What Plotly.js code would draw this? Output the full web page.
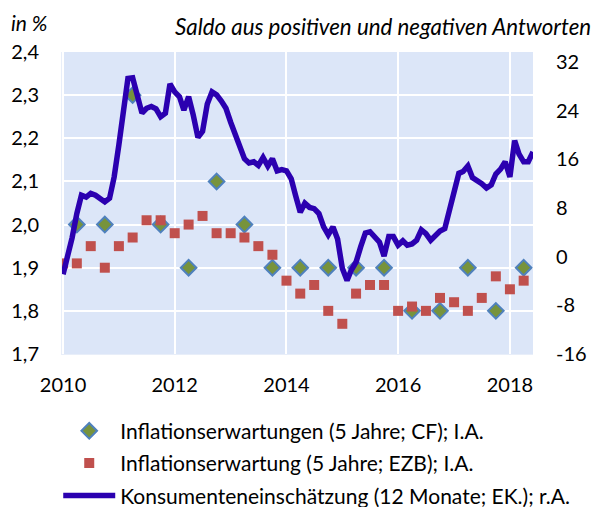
<!DOCTYPE html>
<html>
<head>
<meta charset="utf-8">
<script src="https://cdn.plot.ly/plotly-3.0.1.min.js"></script>
<style>html,body{margin:0;padding:0;background:#fff;}#chart{width:598px;height:507px;}</style>
</head>
<body>
<div id="chart"></div>
<script>
// Inflationserwartungen (5 Jahre; CF) - halbjährlich
var cfDates = ["2010-04-01","2010-10-01","2011-04-01","2011-10-01","2012-04-01","2012-10-01","2013-04-01","2013-10-01","2014-04-01","2014-10-01","2015-04-01","2015-10-01","2016-04-01","2016-10-01","2017-04-01","2017-10-01","2018-04-01"];
var cfValues = [2.0,2.0,2.3,2.0,1.9,2.1,2.0,1.9,1.9,1.9,1.9,1.9,1.8,1.8,1.9,1.8,1.9];

// Inflationserwartung (5 Jahre; EZB) - quartalsweise
var ecbDates = ["2010-01-01","2010-04-01","2010-07-01","2010-10-01","2011-01-01","2011-04-01","2011-07-01","2011-10-01","2012-01-01","2012-04-01","2012-07-01","2012-10-01","2013-01-01","2013-04-01","2013-07-01","2013-10-01","2014-01-01","2014-04-01","2014-07-01","2014-10-01","2015-01-01","2015-04-01","2015-07-01","2015-10-01","2016-01-01","2016-04-01","2016-07-01","2016-10-01","2017-01-01","2017-04-01","2017-07-01","2017-10-01","2018-01-01","2018-04-01"];
var ecbValues = [1.91,1.91,1.95,1.90,1.95,1.97,2.01,2.01,1.98,2.00,2.02,1.98,1.98,1.97,1.95,1.93,1.87,1.84,1.86,1.80,1.77,1.84,1.86,1.86,1.80,1.81,1.80,1.83,1.82,1.80,1.83,1.88,1.85,1.87];

// Konsumenteneinschätzung (12 Monate; EK.) - monatlich ab 2010-01
var consStart = "2010-01";
var consValues = [-2.9,0.2,3.1,7.1,10.1,9.8,10.4,10.1,9.6,9.0,9.6,13.1,
18.4,24.1,29.3,29.4,26.8,23.6,24.4,24.7,24.3,23.0,23.6,28.4,
27.1,26.3,24.1,26.3,23.3,19.6,20.6,25.1,27.1,26.6,25.6,24.4,
22.1,20.1,18.3,16.1,15.4,15.6,15.0,16.3,14.9,16.1,14.1,14.3,
14.1,12.8,10.1,7.3,8.8,8.1,7.9,7.1,4.9,3.6,4.9,2.9,
-1.9,-3.9,-2.2,-0.9,1.6,3.9,4.1,3.1,2.4,0.1,3.3,3.3,
1.9,2.6,1.9,2.1,2.7,4.4,3.8,2.7,3.6,4.2,4.6,7.8,
11.1,13.7,14.0,14.9,13.0,12.6,12.0,11.3,11.8,13.6,14.4,15.6,
13.1,19.1,16.9,15.6,15.6,17.2];

var leftTicks = [1.7,1.8,1.9,2.0,2.1,2.2,2.3,2.4];
var rightTicks = [-16,-8,0,8,16,24,32];
var rightTickText = ["-16","-8","0","8","16","24","32"];
var xTicks = ["2010-01-01","2012-01-01","2014-01-01","2016-01-01","2018-01-01"];
var xTickText = ["2010","2012","2014","2016","2018"];

var names = ["Inflationserwartungen (5 Jahre; CF); I.A.",
             "Inflationserwartung (5 Jahre; EZB); I.A.",
             "Konsumenteneinschätzung (12 Monate; EK.); r.A."];

// build monthly dates
var consDates = [];
(function(){
  var p = consStart.split("-"); var y = +p[0], m = +p[1];
  for (var i = 0; i < consValues.length; i++) {
    consDates.push(y + "-" + (m < 10 ? "0" + m : m) + "-01");
    m++; if (m > 12) { m = 1; y++; }
  }
})();

var FONT = "Lato, 'Open Sans', sans-serif";

var traces = [
  {x: cfDates, y: cfValues, type: "scatter", mode: "markers", name: names[0],
   legendgroup: "a",
   marker: {symbol: "diamond", size: 12, color: "#77933C", line: {color: "#4F81BD", width: 2}}},
  {x: ecbDates, y: ecbValues, type: "scatter", mode: "markers", name: names[1],
   legendgroup: "b",
   marker: {symbol: "square", size: 10, color: "#C0504D", line: {width: 0}}},
  {x: consDates, y: consValues, type: "scatter", mode: "lines", name: names[2],
   legendgroup: "c", yaxis: "y2",
   line: {color: "#2B00B0", width: 5.5}}
];

var layout = {
  width: 598, height: 507,
  margin: {l: 62, r: 65, t: 52, b: 153},
  paper_bgcolor: "#ffffff",
  plot_bgcolor: "#DCE6F8",
  separators: ",.",
  font: {family: FONT, size: 20, color: "#000"},
  showlegend: true,
  legend: {x: -0.008, xanchor: "left", xref: "paper",
           y: 0.19, yanchor: "top", yref: "container",
           font: {family: FONT, size: 21, color: "#000"},
           tracegroupgap: 2, itemwidth: 52, bgcolor: "rgba(0,0,0,0)"},
  xaxis: {type: "date", range: ["2009-12-25", "2018-06-01"],
          tickvals: xTicks, ticktext: xTickText,
          showgrid: true, gridcolor: "#ffffff", gridwidth: 2,
          zeroline: false, showline: true, linecolor: "#E8EEF9", linewidth: 1,
          ticks: "", ticklabelstandoff: 13,
          tickfont: {family: FONT, size: 20, color: "#000"}},
  yaxis: {range: [1.7, 2.4], tickvals: leftTicks, tickformat: ".1f",
          showgrid: true, gridcolor: "#ffffff", gridwidth: 2,
          zeroline: false, showline: true, linecolor: "#E8EEF9", linewidth: 1,
          ticks: "", ticklabelstandoff: 18,
          tickfont: {family: FONT, size: 20, color: "#000"}},
  yaxis2: {range: [-16, 33.65], overlaying: "y", side: "right",
           tickvals: rightTicks, ticktext: rightTickText,
           showgrid: false, zeroline: false, showline: false,
           ticks: "", ticklabelstandoff: 22,
           tickfont: {family: FONT, size: 20, color: "#000"}},
  annotations: [
    {text: "<i>in %</i>", xref: "paper", yref: "paper", x: -0.112, y: 1.097,
     xanchor: "left", yanchor: "middle", showarrow: false,
     font: {family: FONT, size: 21, color: "#000"}},
    {text: "<i>Saldo aus positiven und negativen Antworten</i>", xref: "paper", yref: "paper",
     x: 1.127, y: 1.083, xanchor: "right", yanchor: "middle", showarrow: false,
     font: {family: FONT, size: 22.3, color: "#000"}}
  ]
};

Plotly.newPlot("chart", traces, layout, {displayModeBar: false, staticPlot: true});
</script>
</body>
</html>
